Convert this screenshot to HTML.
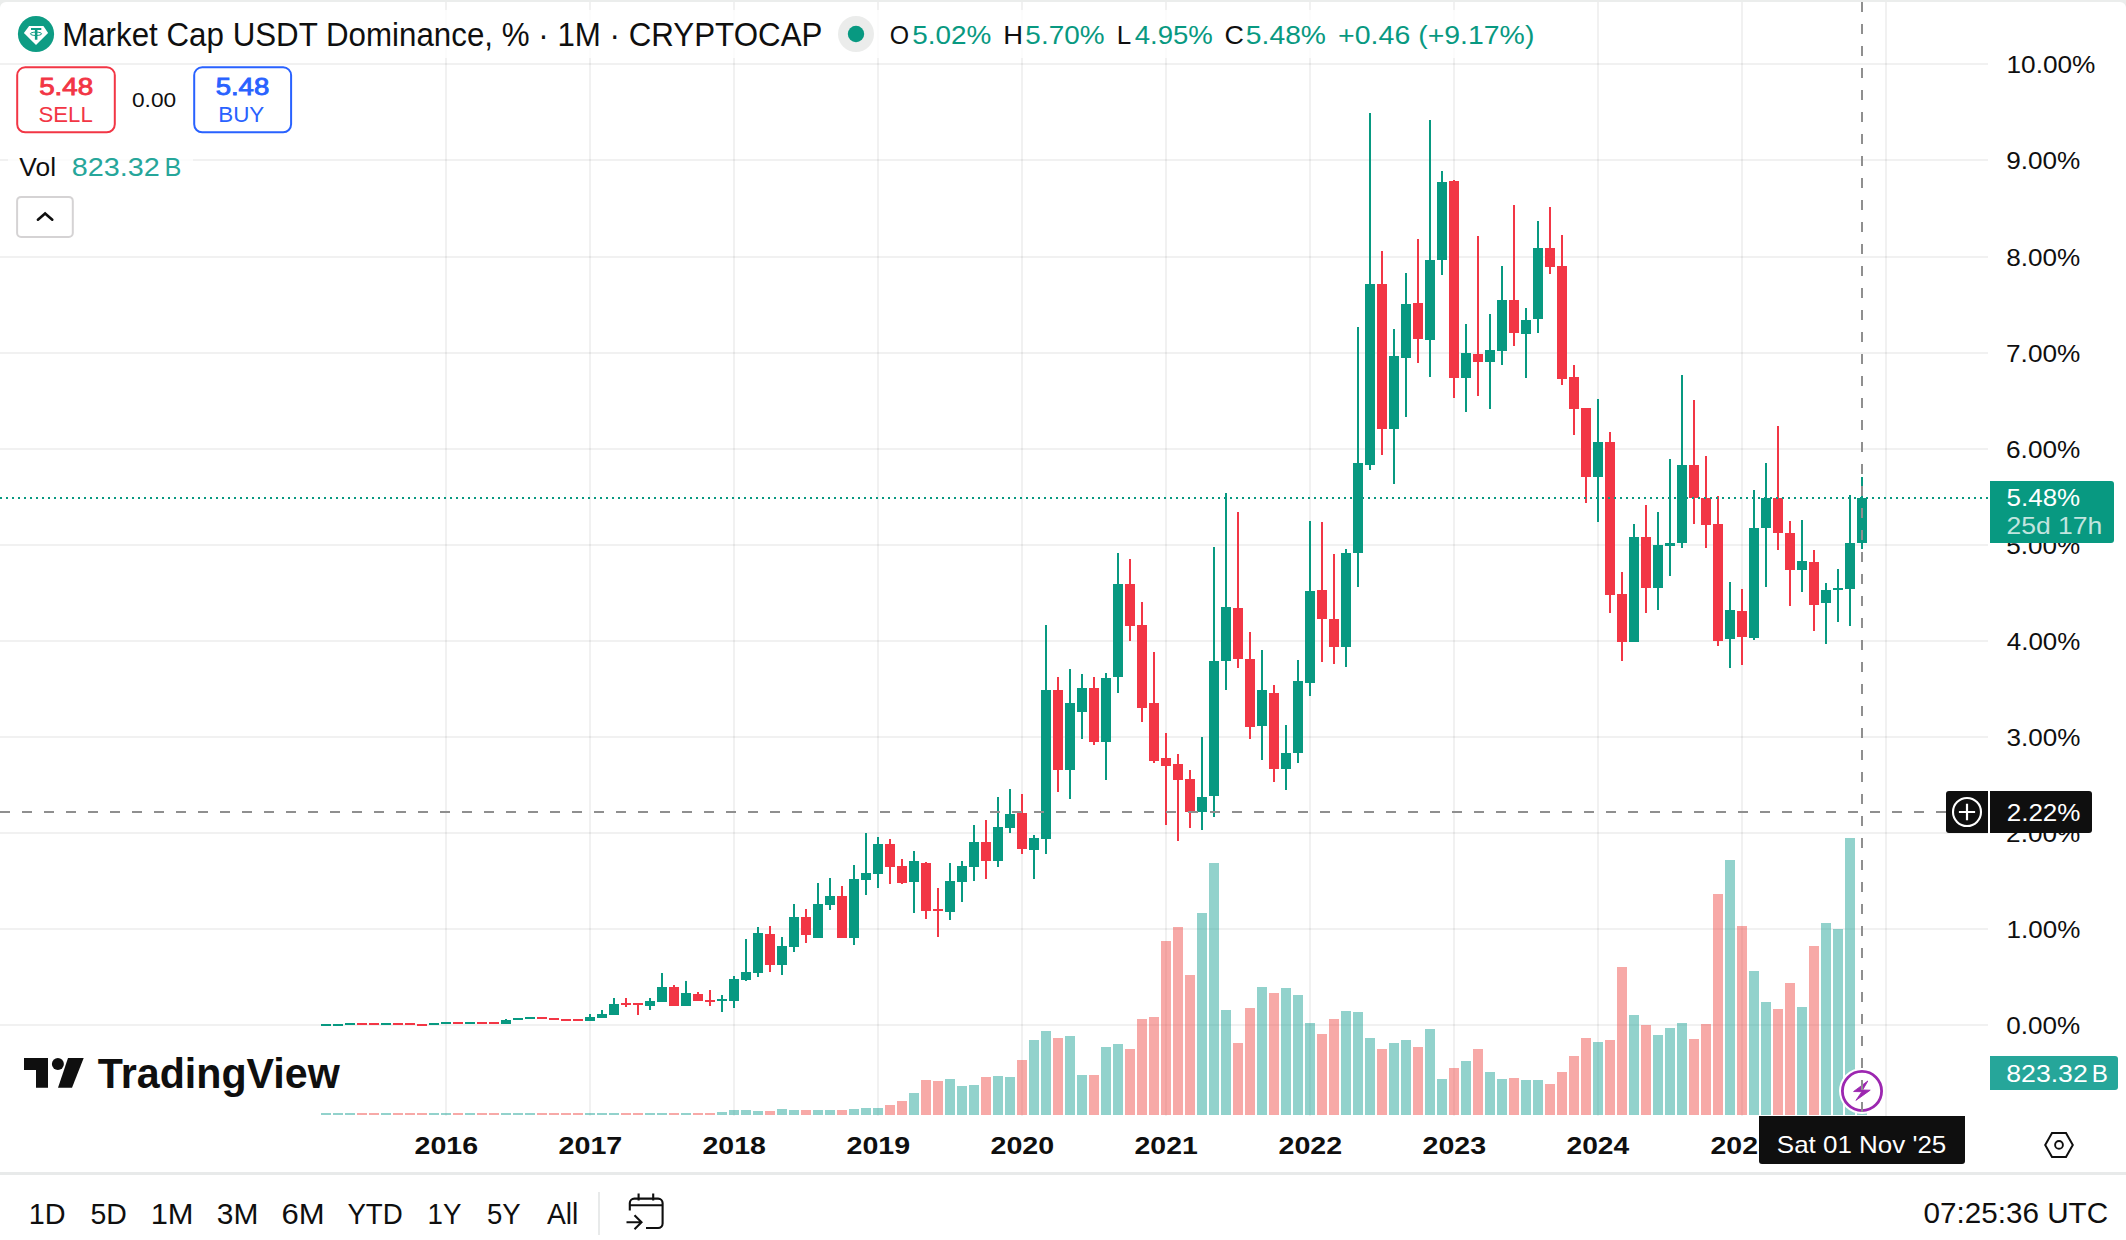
<!DOCTYPE html>
<html lang="en"><head><meta charset="utf-8"><title>Market Cap USDT Dominance, % · 1M · CRYPTOCAP</title>
<style>
html,body{margin:0;padding:0;background:#fff;}
body{width:2126px;height:1240px;overflow:hidden;position:relative;font-family:"Liberation Sans",sans-serif;}
</style></head><body>
<svg width="2126" height="1240" viewBox="0 0 2126 1240" font-family="'Liberation Sans', sans-serif" style="position:absolute;left:0;top:0">
<rect x="0" y="0" width="2126" height="1240" fill="#ebedec"/>
<path d="M0 1240V8a6 6 0 0 1 6-6H2120a6 6 0 0 1 6 6V1240Z" fill="#fff"/>
<g fill="#000" fill-opacity="0.055"><rect x="0" y="63" width="1988" height="2"/><rect x="0" y="159" width="1988" height="2"/><rect x="0" y="256" width="1988" height="2"/><rect x="0" y="352" width="1988" height="2"/><rect x="0" y="448" width="1988" height="2"/><rect x="0" y="544" width="1988" height="2"/><rect x="0" y="640" width="1988" height="2"/><rect x="0" y="736" width="1988" height="2"/><rect x="0" y="832" width="1988" height="2"/><rect x="0" y="928" width="1988" height="2"/><rect x="0" y="1024" width="1988" height="2"/><rect x="445" y="2" width="2" height="1114"/><rect x="589" y="2" width="2" height="1114"/><rect x="733" y="2" width="2" height="1114"/><rect x="877" y="2" width="2" height="1114"/><rect x="1021" y="2" width="2" height="1114"/><rect x="1165" y="2" width="2" height="1114"/><rect x="1309" y="2" width="2" height="1114"/><rect x="1453" y="2" width="2" height="1114"/><rect x="1597" y="2" width="2" height="1114"/><rect x="1741" y="2" width="2" height="1114"/><rect x="1885" y="2" width="2" height="1114"/></g>
<g fill="#26a69a" fill-opacity="0.5"><rect x="321" y="1113" width="10" height="2"/><rect x="333" y="1113" width="10" height="2"/><rect x="345" y="1113" width="10" height="2"/><rect x="381" y="1113" width="10" height="2"/><rect x="429" y="1113" width="10" height="2"/><rect x="441" y="1113" width="10" height="2"/><rect x="465" y="1113" width="10" height="2"/><rect x="501" y="1113" width="10" height="2"/><rect x="513" y="1113" width="10" height="2"/><rect x="525" y="1113" width="10" height="2"/><rect x="585" y="1113" width="10" height="2"/><rect x="597" y="1113" width="10" height="2"/><rect x="609" y="1113" width="10" height="2"/><rect x="645" y="1113" width="10" height="2"/><rect x="657" y="1113" width="10" height="2"/><rect x="681" y="1113" width="10" height="2"/><rect x="717" y="1112" width="10" height="3"/><rect x="729" y="1110" width="10" height="5"/><rect x="741" y="1110" width="10" height="5"/><rect x="753" y="1111" width="10" height="4"/><rect x="777" y="1109" width="10" height="6"/><rect x="789" y="1110" width="10" height="5"/><rect x="813" y="1110" width="10" height="5"/><rect x="825" y="1110" width="10" height="5"/><rect x="849" y="1109" width="10" height="6"/><rect x="861" y="1108" width="10" height="7"/><rect x="873" y="1108" width="10" height="7"/><rect x="909" y="1093" width="10" height="22"/><rect x="945" y="1079" width="10" height="36"/><rect x="957" y="1086" width="10" height="29"/><rect x="969" y="1085" width="10" height="30"/><rect x="993" y="1076" width="10" height="39"/><rect x="1005" y="1077" width="10" height="38"/><rect x="1029" y="1040" width="10" height="75"/><rect x="1041" y="1031" width="10" height="84"/><rect x="1065" y="1036" width="10" height="79"/><rect x="1077" y="1075" width="10" height="40"/><rect x="1101" y="1047" width="10" height="68"/><rect x="1113" y="1044" width="10" height="71"/><rect x="1197" y="913" width="10" height="202"/><rect x="1209" y="863" width="10" height="252"/><rect x="1221" y="1010" width="10" height="105"/><rect x="1257" y="987" width="10" height="128"/><rect x="1281" y="988" width="10" height="127"/><rect x="1293" y="995" width="10" height="120"/><rect x="1305" y="1023" width="10" height="92"/><rect x="1341" y="1011" width="10" height="104"/><rect x="1353" y="1012" width="10" height="103"/><rect x="1365" y="1038" width="10" height="77"/><rect x="1389" y="1043" width="10" height="72"/><rect x="1401" y="1040" width="10" height="75"/><rect x="1425" y="1029" width="10" height="86"/><rect x="1437" y="1079" width="10" height="36"/><rect x="1461" y="1061" width="10" height="54"/><rect x="1485" y="1072" width="10" height="43"/><rect x="1497" y="1079" width="10" height="36"/><rect x="1521" y="1080" width="10" height="35"/><rect x="1533" y="1080" width="10" height="35"/><rect x="1593" y="1042" width="10" height="73"/><rect x="1629" y="1015" width="10" height="100"/><rect x="1653" y="1035" width="10" height="80"/><rect x="1665" y="1028" width="10" height="87"/><rect x="1677" y="1023" width="10" height="92"/><rect x="1725" y="860" width="10" height="255"/><rect x="1749" y="971" width="10" height="144"/><rect x="1761" y="1002" width="10" height="113"/><rect x="1797" y="1007" width="10" height="108"/><rect x="1821" y="923" width="10" height="192"/><rect x="1833" y="929" width="10" height="186"/><rect x="1845" y="838" width="10" height="277"/><rect x="1857" y="1073" width="10" height="42"/></g>
<g fill="#ef5350" fill-opacity="0.5"><rect x="357" y="1113" width="10" height="2"/><rect x="369" y="1113" width="10" height="2"/><rect x="393" y="1113" width="10" height="2"/><rect x="405" y="1113" width="10" height="2"/><rect x="417" y="1113" width="10" height="2"/><rect x="453" y="1113" width="10" height="2"/><rect x="477" y="1113" width="10" height="2"/><rect x="489" y="1113" width="10" height="2"/><rect x="537" y="1113" width="10" height="2"/><rect x="549" y="1113" width="10" height="2"/><rect x="561" y="1113" width="10" height="2"/><rect x="573" y="1113" width="10" height="2"/><rect x="621" y="1113" width="10" height="2"/><rect x="633" y="1113" width="10" height="2"/><rect x="669" y="1113" width="10" height="2"/><rect x="693" y="1113" width="10" height="2"/><rect x="705" y="1113" width="10" height="2"/><rect x="765" y="1111" width="10" height="4"/><rect x="801" y="1110" width="10" height="5"/><rect x="837" y="1110" width="10" height="5"/><rect x="885" y="1105" width="10" height="10"/><rect x="897" y="1101" width="10" height="14"/><rect x="921" y="1080" width="10" height="35"/><rect x="933" y="1081" width="10" height="34"/><rect x="981" y="1077" width="10" height="38"/><rect x="1017" y="1060" width="10" height="55"/><rect x="1053" y="1038" width="10" height="77"/><rect x="1089" y="1075" width="10" height="40"/><rect x="1125" y="1049" width="10" height="66"/><rect x="1137" y="1019" width="10" height="96"/><rect x="1149" y="1017" width="10" height="98"/><rect x="1161" y="941" width="10" height="174"/><rect x="1173" y="927" width="10" height="188"/><rect x="1185" y="975" width="10" height="140"/><rect x="1233" y="1043" width="10" height="72"/><rect x="1245" y="1008" width="10" height="107"/><rect x="1269" y="993" width="10" height="122"/><rect x="1317" y="1034" width="10" height="81"/><rect x="1329" y="1019" width="10" height="96"/><rect x="1377" y="1049" width="10" height="66"/><rect x="1413" y="1047" width="10" height="68"/><rect x="1449" y="1068" width="10" height="47"/><rect x="1473" y="1049" width="10" height="66"/><rect x="1509" y="1078" width="10" height="37"/><rect x="1545" y="1084" width="10" height="31"/><rect x="1557" y="1072" width="10" height="43"/><rect x="1569" y="1056" width="10" height="59"/><rect x="1581" y="1038" width="10" height="77"/><rect x="1605" y="1040" width="10" height="75"/><rect x="1617" y="967" width="10" height="148"/><rect x="1641" y="1025" width="10" height="90"/><rect x="1689" y="1039" width="10" height="76"/><rect x="1701" y="1024" width="10" height="91"/><rect x="1713" y="894" width="10" height="221"/><rect x="1737" y="926" width="10" height="189"/><rect x="1773" y="1009" width="10" height="106"/><rect x="1785" y="983" width="10" height="132"/><rect x="1809" y="946" width="10" height="169"/></g>
<g fill="#089981"><rect x="325" y="1024" width="2" height="2"/><rect x="321" y="1024" width="10" height="2"/><rect x="337" y="1024" width="2" height="2"/><rect x="333" y="1024" width="10" height="2"/><rect x="349" y="1023" width="2" height="2"/><rect x="345" y="1023" width="10" height="2"/><rect x="385" y="1023" width="2" height="2"/><rect x="381" y="1023" width="10" height="2"/><rect x="433" y="1023" width="2" height="2"/><rect x="429" y="1023" width="10" height="2"/><rect x="445" y="1022" width="2" height="2"/><rect x="441" y="1022" width="10" height="2"/><rect x="469" y="1022" width="2" height="2"/><rect x="465" y="1022" width="10" height="2"/><rect x="505" y="1019" width="2" height="5"/><rect x="501" y="1020" width="10" height="4"/><rect x="517" y="1018" width="2" height="2"/><rect x="513" y="1018" width="10" height="2"/><rect x="529" y="1017" width="2" height="2"/><rect x="525" y="1017" width="10" height="2"/><rect x="589" y="1014" width="2" height="7"/><rect x="585" y="1017" width="10" height="4"/><rect x="601" y="1010" width="2" height="8"/><rect x="597" y="1014" width="10" height="4"/><rect x="613" y="998" width="2" height="17"/><rect x="609" y="1004" width="10" height="11"/><rect x="649" y="998" width="2" height="12"/><rect x="645" y="1001" width="10" height="5"/><rect x="661" y="973" width="2" height="29"/><rect x="657" y="987" width="10" height="15"/><rect x="685" y="981" width="2" height="25"/><rect x="681" y="993" width="10" height="13"/><rect x="721" y="995" width="2" height="17"/><rect x="717" y="999" width="10" height="2"/><rect x="733" y="976" width="2" height="32"/><rect x="729" y="979" width="10" height="22"/><rect x="745" y="939" width="2" height="42"/><rect x="741" y="972" width="10" height="8"/><rect x="757" y="927" width="2" height="50"/><rect x="753" y="933" width="10" height="40"/><rect x="781" y="937" width="2" height="38"/><rect x="777" y="946" width="10" height="19"/><rect x="793" y="904" width="2" height="48"/><rect x="789" y="917" width="10" height="30"/><rect x="817" y="883" width="2" height="55"/><rect x="813" y="904" width="10" height="34"/><rect x="829" y="878" width="2" height="32"/><rect x="825" y="896" width="10" height="9"/><rect x="853" y="865" width="2" height="80"/><rect x="849" y="879" width="10" height="59"/><rect x="865" y="833" width="2" height="62"/><rect x="861" y="873" width="10" height="7"/><rect x="877" y="837" width="2" height="51"/><rect x="873" y="844" width="10" height="30"/><rect x="913" y="851" width="2" height="62"/><rect x="909" y="861" width="10" height="21"/><rect x="949" y="863" width="2" height="57"/><rect x="945" y="881" width="10" height="31"/><rect x="961" y="861" width="2" height="41"/><rect x="957" y="866" width="10" height="16"/><rect x="973" y="825" width="2" height="56"/><rect x="969" y="842" width="10" height="25"/><rect x="997" y="797" width="2" height="70"/><rect x="993" y="827" width="10" height="34"/><rect x="1009" y="789" width="2" height="44"/><rect x="1005" y="814" width="10" height="14"/><rect x="1033" y="835" width="2" height="44"/><rect x="1029" y="838" width="10" height="12"/><rect x="1045" y="625" width="2" height="229"/><rect x="1041" y="690" width="10" height="149"/><rect x="1069" y="669" width="2" height="130"/><rect x="1065" y="703" width="10" height="67"/><rect x="1081" y="674" width="2" height="65"/><rect x="1077" y="688" width="10" height="24"/><rect x="1105" y="673" width="2" height="107"/><rect x="1101" y="678" width="10" height="64"/><rect x="1117" y="553" width="2" height="140"/><rect x="1113" y="584" width="10" height="93"/><rect x="1201" y="737" width="2" height="93"/><rect x="1197" y="797" width="10" height="15"/><rect x="1213" y="547" width="2" height="270"/><rect x="1209" y="661" width="10" height="135"/><rect x="1225" y="493" width="2" height="197"/><rect x="1221" y="607" width="10" height="54"/><rect x="1261" y="650" width="2" height="110"/><rect x="1257" y="690" width="10" height="36"/><rect x="1285" y="725" width="2" height="65"/><rect x="1281" y="753" width="10" height="16"/><rect x="1297" y="660" width="2" height="103"/><rect x="1293" y="681" width="10" height="72"/><rect x="1309" y="521" width="2" height="175"/><rect x="1305" y="591" width="10" height="92"/><rect x="1345" y="549" width="2" height="118"/><rect x="1341" y="553" width="10" height="94"/><rect x="1357" y="327" width="2" height="260"/><rect x="1353" y="463" width="10" height="90"/><rect x="1369" y="113" width="2" height="357"/><rect x="1365" y="284" width="10" height="181"/><rect x="1393" y="329" width="2" height="155"/><rect x="1389" y="356" width="10" height="73"/><rect x="1405" y="273" width="2" height="144"/><rect x="1401" y="304" width="10" height="54"/><rect x="1429" y="120" width="2" height="257"/><rect x="1425" y="260" width="10" height="80"/><rect x="1441" y="171" width="2" height="104"/><rect x="1437" y="182" width="10" height="78"/><rect x="1465" y="324" width="2" height="88"/><rect x="1461" y="353" width="10" height="25"/><rect x="1489" y="314" width="2" height="95"/><rect x="1485" y="350" width="10" height="12"/><rect x="1501" y="266" width="2" height="99"/><rect x="1497" y="300" width="10" height="51"/><rect x="1525" y="308" width="2" height="70"/><rect x="1521" y="320" width="10" height="14"/><rect x="1537" y="221" width="2" height="112"/><rect x="1533" y="248" width="10" height="71"/><rect x="1597" y="399" width="2" height="123"/><rect x="1593" y="442" width="10" height="35"/><rect x="1633" y="524" width="2" height="118"/><rect x="1629" y="537" width="10" height="105"/><rect x="1657" y="512" width="2" height="98"/><rect x="1653" y="545" width="10" height="43"/><rect x="1669" y="459" width="2" height="117"/><rect x="1665" y="543" width="10" height="3"/><rect x="1681" y="375" width="2" height="173"/><rect x="1677" y="465" width="10" height="78"/><rect x="1729" y="582" width="2" height="86"/><rect x="1725" y="610" width="10" height="29"/><rect x="1753" y="490" width="2" height="150"/><rect x="1749" y="528" width="10" height="110"/><rect x="1765" y="463" width="2" height="124"/><rect x="1761" y="498" width="10" height="30"/><rect x="1801" y="520" width="2" height="72"/><rect x="1797" y="561" width="10" height="9"/><rect x="1825" y="583" width="2" height="61"/><rect x="1821" y="590" width="10" height="13"/><rect x="1837" y="569" width="2" height="53"/><rect x="1833" y="588" width="10" height="2"/><rect x="1849" y="495" width="2" height="131"/><rect x="1845" y="543" width="10" height="46"/><rect x="1861" y="477" width="2" height="72"/><rect x="1857" y="498" width="10" height="45"/></g>
<g fill="#f23645"><rect x="361" y="1023" width="2" height="2"/><rect x="357" y="1023" width="10" height="2"/><rect x="373" y="1023" width="2" height="2"/><rect x="369" y="1023" width="10" height="2"/><rect x="397" y="1023" width="2" height="2"/><rect x="393" y="1023" width="10" height="2"/><rect x="409" y="1023" width="2" height="2"/><rect x="405" y="1023" width="10" height="2"/><rect x="421" y="1024" width="2" height="2"/><rect x="417" y="1024" width="10" height="2"/><rect x="457" y="1022" width="2" height="2"/><rect x="453" y="1022" width="10" height="2"/><rect x="481" y="1022" width="2" height="2"/><rect x="477" y="1022" width="10" height="2"/><rect x="493" y="1022" width="2" height="2"/><rect x="489" y="1022" width="10" height="2"/><rect x="541" y="1017" width="2" height="2"/><rect x="537" y="1017" width="10" height="2"/><rect x="553" y="1018" width="2" height="2"/><rect x="549" y="1018" width="10" height="2"/><rect x="565" y="1019" width="2" height="2"/><rect x="561" y="1019" width="10" height="2"/><rect x="577" y="1019" width="2" height="2"/><rect x="573" y="1019" width="10" height="2"/><rect x="625" y="998" width="2" height="9"/><rect x="621" y="1003" width="10" height="2"/><rect x="637" y="1003" width="2" height="12"/><rect x="633" y="1003" width="10" height="2"/><rect x="673" y="985" width="2" height="21"/><rect x="669" y="987" width="10" height="19"/><rect x="697" y="992" width="2" height="9"/><rect x="693" y="994" width="10" height="7"/><rect x="709" y="990" width="2" height="16"/><rect x="705" y="1000" width="10" height="2"/><rect x="769" y="926" width="2" height="46"/><rect x="765" y="934" width="10" height="31"/><rect x="805" y="909" width="2" height="34"/><rect x="801" y="917" width="10" height="18"/><rect x="841" y="886" width="2" height="52"/><rect x="837" y="896" width="10" height="42"/><rect x="889" y="839" width="2" height="45"/><rect x="885" y="844" width="10" height="23"/><rect x="901" y="859" width="2" height="25"/><rect x="897" y="866" width="10" height="17"/><rect x="925" y="862" width="2" height="57"/><rect x="921" y="863" width="10" height="48"/><rect x="937" y="888" width="2" height="49"/><rect x="933" y="909" width="10" height="2"/><rect x="985" y="820" width="2" height="59"/><rect x="981" y="842" width="10" height="19"/><rect x="1021" y="794" width="2" height="60"/><rect x="1017" y="813" width="10" height="36"/><rect x="1057" y="677" width="2" height="115"/><rect x="1053" y="690" width="10" height="80"/><rect x="1093" y="677" width="2" height="68"/><rect x="1089" y="688" width="10" height="54"/><rect x="1129" y="559" width="2" height="82"/><rect x="1125" y="584" width="10" height="42"/><rect x="1141" y="602" width="2" height="120"/><rect x="1137" y="625" width="10" height="83"/><rect x="1153" y="652" width="2" height="111"/><rect x="1149" y="703" width="10" height="58"/><rect x="1165" y="733" width="2" height="92"/><rect x="1161" y="758" width="10" height="8"/><rect x="1177" y="754" width="2" height="87"/><rect x="1173" y="764" width="10" height="16"/><rect x="1189" y="770" width="2" height="58"/><rect x="1185" y="779" width="10" height="33"/><rect x="1237" y="512" width="2" height="156"/><rect x="1233" y="608" width="10" height="51"/><rect x="1249" y="632" width="2" height="107"/><rect x="1245" y="659" width="10" height="68"/><rect x="1273" y="685" width="2" height="97"/><rect x="1269" y="693" width="10" height="76"/><rect x="1321" y="522" width="2" height="140"/><rect x="1317" y="590" width="10" height="29"/><rect x="1333" y="554" width="2" height="110"/><rect x="1329" y="619" width="10" height="28"/><rect x="1381" y="251" width="2" height="204"/><rect x="1377" y="284" width="10" height="145"/><rect x="1417" y="239" width="2" height="124"/><rect x="1413" y="303" width="10" height="36"/><rect x="1453" y="180" width="2" height="218"/><rect x="1449" y="181" width="10" height="197"/><rect x="1477" y="236" width="2" height="160"/><rect x="1473" y="354" width="10" height="8"/><rect x="1513" y="205" width="2" height="141"/><rect x="1509" y="300" width="10" height="33"/><rect x="1549" y="207" width="2" height="67"/><rect x="1545" y="248" width="10" height="19"/><rect x="1561" y="235" width="2" height="150"/><rect x="1557" y="266" width="10" height="113"/><rect x="1573" y="365" width="2" height="70"/><rect x="1569" y="377" width="10" height="32"/><rect x="1585" y="408" width="2" height="95"/><rect x="1581" y="408" width="10" height="69"/><rect x="1609" y="432" width="2" height="181"/><rect x="1605" y="442" width="10" height="153"/><rect x="1621" y="572" width="2" height="89"/><rect x="1617" y="594" width="10" height="48"/><rect x="1645" y="505" width="2" height="108"/><rect x="1641" y="537" width="10" height="51"/><rect x="1693" y="400" width="2" height="124"/><rect x="1689" y="465" width="10" height="33"/><rect x="1705" y="456" width="2" height="92"/><rect x="1701" y="498" width="10" height="27"/><rect x="1717" y="496" width="2" height="150"/><rect x="1713" y="524" width="10" height="117"/><rect x="1741" y="589" width="2" height="76"/><rect x="1737" y="611" width="10" height="26"/><rect x="1777" y="426" width="2" height="124"/><rect x="1773" y="498" width="10" height="35"/><rect x="1789" y="521" width="2" height="85"/><rect x="1785" y="533" width="10" height="37"/><rect x="1813" y="550" width="2" height="81"/><rect x="1809" y="562" width="10" height="43"/></g>
<line x1="0" y1="498" x2="1988" y2="498" stroke="#089981" stroke-width="2" stroke-dasharray="2 4"/>
<circle cx="1862" cy="1091" r="23" fill="#fff"/>
<circle cx="1862" cy="1091" r="19.6" fill="#fff" stroke="#9c27b0" stroke-width="2.8"/>
<path d="M1867.8 1081 L1853.6 1091.5 L1861.9 1091.7 L1855.9 1100.4 L1870.2 1090.2 L1862.6 1090 Z" fill="#9c27b0" stroke="#9c27b0" stroke-width="0.9" stroke-linejoin="round"/>
<line x1="1862" y1="2" x2="1862" y2="1116" stroke="#8f8f8f" stroke-width="2" stroke-dasharray="10 12"/>
<line x1="0" y1="812" x2="1946" y2="812" stroke="#8f8f8f" stroke-width="2" stroke-dasharray="10 12"/>
<rect x="8" y="10" width="1533" height="48" fill="#fff" fill-opacity="0.8"/>
<circle cx="36" cy="34" r="18.1" fill="#0e9c84"/>
<path d="M29.1 26H43.4L48.1 32.9L36 45L23.9 32.9Z" fill="#fff"/>
<path d="M31 28.1H41.3V29.9H37.4V39.7H34.9V29.9H31Z" fill="#0e9c84"/>
<ellipse cx="36" cy="33.8" rx="5.6" ry="1.7" fill="none" stroke="#0e9c84" stroke-width="1"/>
<text x="62.13" y="45.90" font-size="33" fill="#0f0f0f" textLength="760.29" lengthAdjust="spacingAndGlyphs">Market Cap USDT Dominance, % · 1M · CRYPTOCAP</text>
<circle cx="856" cy="34" r="18" fill="#ebeceb"/><circle cx="856" cy="34" r="8.2" fill="#089981"/>
<text x="889.83" y="43.60" font-size="26" fill="#0f0f0f" textLength="19.36" lengthAdjust="spacingAndGlyphs">O</text>
<text x="912.28" y="43.60" font-size="26" fill="#089981" textLength="79.11" lengthAdjust="spacingAndGlyphs">5.02%</text>
<text x="1003.36" y="43.60" font-size="26" fill="#0f0f0f" textLength="19.77" lengthAdjust="spacingAndGlyphs">H</text>
<text x="1025.38" y="43.60" font-size="26" fill="#089981" textLength="79.11" lengthAdjust="spacingAndGlyphs">5.70%</text>
<text x="1116.66" y="43.60" font-size="26" fill="#0f0f0f" textLength="14.50" lengthAdjust="spacingAndGlyphs">L</text>
<text x="1134.67" y="43.60" font-size="26" fill="#089981" textLength="78.21" lengthAdjust="spacingAndGlyphs">4.95%</text>
<text x="1224.63" y="43.60" font-size="26" fill="#0f0f0f" textLength="19.39" lengthAdjust="spacingAndGlyphs">C</text>
<text x="1245.87" y="43.60" font-size="26" fill="#089981" textLength="80.13" lengthAdjust="spacingAndGlyphs">5.48%</text>
<text x="1338.10" y="43.60" font-size="26" fill="#089981" textLength="72.16" lengthAdjust="spacingAndGlyphs">+0.46</text>
<text x="1418.24" y="43.60" font-size="26" fill="#089981" textLength="116.14" lengthAdjust="spacingAndGlyphs">(+9.17%)</text>
<rect x="17.2" y="67.3" width="97.6" height="65" rx="8" fill="#fff" stroke="#f23645" stroke-width="2"/>
<text x="39.19" y="95.00" font-size="24" fill="#f23645" textLength="54.01" lengthAdjust="spacingAndGlyphs" stroke="#f23645" stroke-width="0.9">5.48</text>
<text x="38.50" y="121.90" font-size="22" fill="#f23645" textLength="54.24" lengthAdjust="spacingAndGlyphs">SELL</text>
<text x="132.01" y="107.00" font-size="20.5" fill="#0f0f0f" textLength="44.18" lengthAdjust="spacingAndGlyphs">0.00</text>
<rect x="194.2" y="67.3" width="96.9" height="65" rx="8" fill="#fff" stroke="#2962ff" stroke-width="2"/>
<text x="215.70" y="95.00" font-size="24" fill="#2962ff" textLength="53.49" lengthAdjust="spacingAndGlyphs" stroke="#2962ff" stroke-width="0.9">5.48</text>
<text x="218.26" y="121.90" font-size="22" fill="#2962ff" textLength="46.03" lengthAdjust="spacingAndGlyphs">BUY</text>
<rect x="8" y="150" width="185" height="34" fill="#fff" fill-opacity="0.8"/>
<text x="19.39" y="176.20" font-size="26" fill="#0f0f0f" textLength="36.65" lengthAdjust="spacingAndGlyphs">Vol</text>
<text x="71.76" y="176.20" font-size="26" fill="#26a69a" textLength="87.99" lengthAdjust="spacingAndGlyphs">823.32</text>
<text x="164.42" y="176.20" font-size="26" fill="#26a69a" textLength="16.89" lengthAdjust="spacingAndGlyphs">B</text>
<rect x="17.1" y="196.9" width="55.7" height="40" rx="4" fill="#fff" stroke="#d5d3d4" stroke-width="2"/>
<path d="M37.9 219.7L45.1 213.5L52.3 219.7" fill="none" stroke="#0f0f0f" stroke-width="2.6" stroke-linecap="round"/>
<text x="2006.51" y="73.00" font-size="24" fill="#0f0f0f" textLength="88.93" lengthAdjust="spacingAndGlyphs">10.00%</text>
<text x="2006.17" y="169.00" font-size="24" fill="#0f0f0f" textLength="74.16" lengthAdjust="spacingAndGlyphs">9.00%</text>
<text x="2006.28" y="266.00" font-size="24" fill="#0f0f0f" textLength="74.05" lengthAdjust="spacingAndGlyphs">8.00%</text>
<text x="2006.06" y="362.00" font-size="24" fill="#0f0f0f" textLength="74.26" lengthAdjust="spacingAndGlyphs">7.00%</text>
<text x="2006.06" y="458.00" font-size="24" fill="#0f0f0f" textLength="74.26" lengthAdjust="spacingAndGlyphs">6.00%</text>
<text x="2006.36" y="554.00" font-size="24" fill="#0f0f0f" textLength="73.97" lengthAdjust="spacingAndGlyphs">5.00%</text>
<text x="2006.80" y="650.00" font-size="24" fill="#0f0f0f" textLength="73.52" lengthAdjust="spacingAndGlyphs">4.00%</text>
<text x="2006.41" y="746.00" font-size="24" fill="#0f0f0f" textLength="73.91" lengthAdjust="spacingAndGlyphs">3.00%</text>
<text x="2006.09" y="842.00" font-size="24" fill="#0f0f0f" textLength="74.24" lengthAdjust="spacingAndGlyphs">2.00%</text>
<text x="2006.52" y="938.00" font-size="24" fill="#0f0f0f" textLength="73.80" lengthAdjust="spacingAndGlyphs">1.00%</text>
<text x="2006.38" y="1034.00" font-size="24" fill="#0f0f0f" textLength="73.94" lengthAdjust="spacingAndGlyphs">0.00%</text>
<path d="M1990 481H2111a3 3 0 0 1 3 3V540a3 3 0 0 1-3 3H1990Z" fill="#089981"/>
<text x="2006.56" y="505.90" font-size="24" fill="#fff" textLength="73.66" lengthAdjust="spacingAndGlyphs">5.48%</text>
<text x="2006.47" y="534.00" font-size="24" fill="#fff" textLength="95.84" lengthAdjust="spacingAndGlyphs" fill-opacity="0.75">25d 17h</text>
<path d="M1988 791H1949a3 3 0 0 0-3 3V830a3 3 0 0 0 3 3H1988Z" fill="#0f0f0f"/>
<path d="M1990 791H2089a3 3 0 0 1 3 3V830a3 3 0 0 1-3 3H1990Z" fill="#0f0f0f"/>
<circle cx="1967" cy="812" r="14" fill="none" stroke="#fff" stroke-width="2.1"/>
<path d="M1958.9 812H1975.1M1967 803.8V820.2" stroke="#fff" stroke-width="2.2" fill="none"/>
<text x="2006.70" y="821.20" font-size="24" fill="#fff" textLength="73.82" lengthAdjust="spacingAndGlyphs">2.22%</text>
<path d="M1990 1056H2115a3 3 0 0 1 3 3V1087a3 3 0 0 1-3 3H1990Z" fill="#26a69a"/>
<text x="2006.25" y="1082.00" font-size="24" fill="#fff" textLength="81.49" lengthAdjust="spacingAndGlyphs">823.32</text>
<text x="2091.72" y="1082.00" font-size="24" fill="#fff" textLength="16.14" lengthAdjust="spacingAndGlyphs">B</text>
<text x="414.53" y="1153.90" font-size="24" fill="#0f0f0f" font-weight="700" textLength="63.52" lengthAdjust="spacingAndGlyphs">2016</text>
<text x="558.53" y="1153.90" font-size="24" fill="#0f0f0f" font-weight="700" textLength="63.75" lengthAdjust="spacingAndGlyphs">2017</text>
<text x="702.53" y="1153.90" font-size="24" fill="#0f0f0f" font-weight="700" textLength="63.34" lengthAdjust="spacingAndGlyphs">2018</text>
<text x="846.53" y="1153.90" font-size="24" fill="#0f0f0f" font-weight="700" textLength="63.55" lengthAdjust="spacingAndGlyphs">2019</text>
<text x="990.53" y="1153.90" font-size="24" fill="#0f0f0f" font-weight="700" textLength="63.66" lengthAdjust="spacingAndGlyphs">2020</text>
<text x="1134.53" y="1153.90" font-size="24" fill="#0f0f0f" font-weight="700" textLength="63.25" lengthAdjust="spacingAndGlyphs">2021</text>
<text x="1278.53" y="1153.90" font-size="24" fill="#0f0f0f" font-weight="700" textLength="63.63" lengthAdjust="spacingAndGlyphs">2022</text>
<text x="1422.53" y="1153.90" font-size="24" fill="#0f0f0f" font-weight="700" textLength="63.52" lengthAdjust="spacingAndGlyphs">2023</text>
<text x="1566.54" y="1153.90" font-size="24" fill="#0f0f0f" font-weight="700" textLength="62.62" lengthAdjust="spacingAndGlyphs">2024</text>
<text x="1710.53" y="1153.90" font-size="24" fill="#0f0f0f" font-weight="700" textLength="63.25" lengthAdjust="spacingAndGlyphs">2025</text>
<path d="M1759 1116H1965V1161a3 3 0 0 1-3 3H1762a3 3 0 0 1-3-3Z" fill="#0f0f0f"/>
<text x="1776.83" y="1153.30" font-size="24" fill="#fff" textLength="169.47" lengthAdjust="spacingAndGlyphs">Sat 01 Nov '25</text>
<path d="M2052 1132.9H2066L2072.8 1145L2066 1157H2052L2045.2 1145Z" fill="none" stroke="#0f0f0f" stroke-width="2" stroke-linejoin="miter"/>
<circle cx="2059" cy="1144.9" r="3.9" fill="none" stroke="#0f0f0f" stroke-width="1.9"/>
<path d="M24 1058H48V1087.7H36V1070H24Z" fill="#0f0f0f"/><circle cx="57.9" cy="1064.1" r="6" fill="#0f0f0f"/><path d="M68 1058H83.7L72 1087.7H58Z" fill="#0f0f0f"/>
<text x="97.85" y="1087.70" font-size="43" fill="#0f0f0f" font-weight="700" textLength="241.87" lengthAdjust="spacingAndGlyphs">TradingView</text>
<rect x="0" y="1172" width="2126" height="3" fill="#e8eaea"/>
<text x="28.81" y="1223.80" font-size="29" fill="#0f0f0f" textLength="36.86" lengthAdjust="spacingAndGlyphs">1D</text>
<text x="90.46" y="1223.80" font-size="29" fill="#0f0f0f" textLength="36.39" lengthAdjust="spacingAndGlyphs">5D</text>
<text x="150.65" y="1223.80" font-size="29" fill="#0f0f0f" textLength="42.88" lengthAdjust="spacingAndGlyphs">1M</text>
<text x="216.86" y="1223.80" font-size="29" fill="#0f0f0f" textLength="41.60" lengthAdjust="spacingAndGlyphs">3M</text>
<text x="281.42" y="1223.80" font-size="29" fill="#0f0f0f" textLength="43.14" lengthAdjust="spacingAndGlyphs">6M</text>
<text x="347.39" y="1223.80" font-size="29" fill="#0f0f0f" textLength="55.41" lengthAdjust="spacingAndGlyphs">YTD</text>
<text x="427.60" y="1223.80" font-size="29" fill="#0f0f0f" textLength="33.81" lengthAdjust="spacingAndGlyphs">1Y</text>
<text x="486.90" y="1223.80" font-size="29" fill="#0f0f0f" textLength="33.71" lengthAdjust="spacingAndGlyphs">5Y</text>
<text x="546.94" y="1223.80" font-size="29" fill="#0f0f0f" textLength="31.43" lengthAdjust="spacingAndGlyphs">All</text>
<rect x="598" y="1192" width="2" height="43" fill="#e8eaea"/>
<path d="M629.8 1210.5V1203.1a4.5 4.5 0 0 1 4.5-4.5H658.1a4.5 4.5 0 0 1 4.5 4.5V1223.5a4.5 4.5 0 0 1-4.5 4.5H646M629.8 1205.2H662.6M638.600 1193.500V1200.500M653.200 1193.500V1200.500M626.500 1222.300H640.500M634.500 1215.300L641.500 1222.300L634.500 1229.300" fill="none" stroke="#0f0f0f" stroke-width="2.1"/>
<text x="1923.54" y="1222.90" font-size="29" fill="#0f0f0f" textLength="184.60" lengthAdjust="spacingAndGlyphs">07:25:36 UTC</text>
</svg>
</body></html>
